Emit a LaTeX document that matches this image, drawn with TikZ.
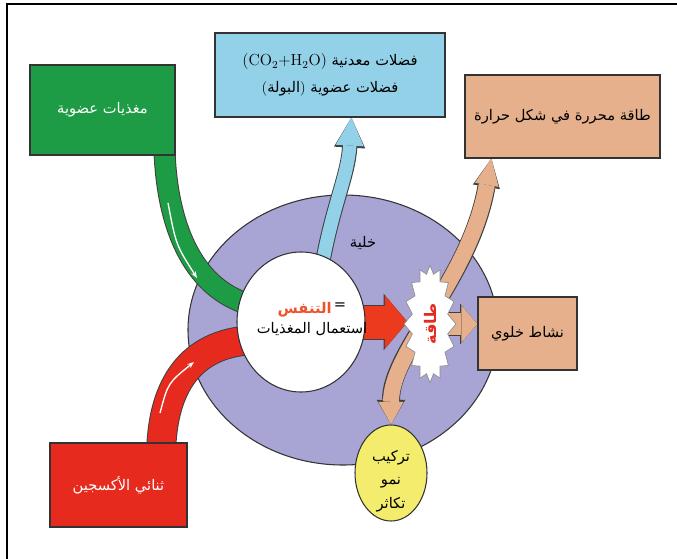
\documentclass[tikz,border=0pt]{standalone}
\usepackage{fontspec}
\newfontfamily\arabicfont[Script=Arabic]{DejaVu Sans}
\TeXXeTstate=1
\usetikzlibrary{arrows.meta, calc, shapes.geometric, shapes.symbols}

\definecolor{cellcol}{HTML}{A8A5D5}
\definecolor{nutgreen}{HTML}{1E9B45}
\definecolor{oxred}{HTML}{E62A1E}
\definecolor{arrowred}{HTML}{EB3A1E}
\definecolor{resporange}{HTML}{F0502A}
\definecolor{wasteblue}{HTML}{93D1E8}
\definecolor{heatpeach}{HTML}{E6B08C}
\definecolor{growyellow}{HTML}{F3EC6C}

\pgfdeclarelayer{cell}
\pgfdeclarelayer{band}
\pgfsetlayers{cell,band,main}

\begin{document}
\begin{tikzpicture}[x=0.75pt, y=-0.75pt,
    font=\arabicfont\fontsize{11}{15}\selectfont,
    box/.style={draw=black!80, line width=0.9pt, align=center, inner sep=2pt},
    outl/.style={draw=black!75, line width=#1}]
    \useasboundingbox (0,0) rectangle (677,559);

    % frame
    \draw[line width=1.5pt] (7,559) -- (7,4) -- (677,4);

    % boxes
    \node[box, fill=nutgreen, text=white, minimum width=108.75pt, minimum height=67.5pt] (nut) at (102.5,110) {\beginR مغذيات عضوية\endR};
    \node[box, fill=wasteblue, minimum width=172.5pt, minimum height=63pt] (waste) at (330,75)
        {\textrm{\fontsize{12}{15}\selectfont(CO\textsubscript{2}+H\textsubscript{2}O)} \beginR فضلات معدنية\endR\\[5pt]
         \textrm{(}\beginR البولة\endR\textrm{)} \beginR فضلات عضوية\endR};
    \node[box, fill=heatpeach, minimum width=146.25pt, minimum height=62.25pt] (heat) at (562.5,116.5) {\beginR طاقة محررة في شكل حرارة\endR};
    \node[box, fill=heatpeach, minimum width=74.25pt, minimum height=54.75pt] (act) at (527.5,333.5) {\beginR نشاط خلوي\endR};
    \node[box, fill=oxred, text=white, minimum width=102.75pt, minimum height=63pt] (oxy) at (118.5,485) {\beginR ثنائي الأكسجين\endR};

    % cell
    \node[ellipse, fill=white, draw=black!80, line width=0.8pt, minimum width=96pt, minimum height=105pt] (wcirc) at (301,322) {};
    \node[align=center] (resptxt) at (312,319)
        {{\color{resporange}\bfseries\beginR التنفس\endR}\,\raisebox{3pt}{=}\\ \beginR استعمال المغذيات\endR};
    \node (celllbl) at (363,243) {\beginR خلية\endR};

    \node[starburst, fill=white, draw=black!45, line width=0.5pt, minimum width=39pt, minimum height=88pt,
        starburst points=16, starburst point height=6pt, random starburst=0, inner sep=0pt] (star) at (430,324) {};
    \node[rotate=90, text=oxred, font=\arabicfont\bfseries\fontsize{12}{14}\selectfont] (startxt) at (star.center) {\beginR طاقة\endR};

    \node[ellipse, fill=growyellow, draw=black!80, line width=0.8pt, minimum width=54pt, minimum height=72pt, inner sep=0pt] (yell) at (391,473) {};
    \node[align=center] (growtxt) at (391,481) {\beginR تركيب\endR\\[2.5pt] \beginR نمو\endR\\[2.5pt] \beginR تكاثر\endR};

    \begin{pgfonlayer}{cell}
        \fill[cellcol, draw=black!80, line width=0.8pt] (343,330) ellipse [x radius=116.25pt, y radius=101.25pt];
    \end{pgfonlayer}

    \begin{pgfonlayer}{band}
        % nutrients and oxygen in
        \draw[oxred, line width=21pt, preaction={outl=22.5pt}]
            ($(oxy.north west)+(112,2)$) .. controls (165,380) and (195,342) .. (255,340);
        \draw[nutgreen, line width=15pt, preaction={outl=16.5pt}]
            ($(nut.south east)+(-11,-2)$) .. controls (168,230) and (195,292) .. (255,306);
        \coordinate (nutA) at (168,203);
        \coordinate (nutB) at (197,278);
        \draw[white, line width=1pt, -{Stealth[length=5pt]}] (nutA) .. controls (176,245) .. (nutB);
        \coordinate (oxA) at (160,413);
        \coordinate (oxB) at (194,362);
        \draw[white, line width=1pt, -{Stealth[length=5pt]}] (oxA) .. controls (168,383) .. (oxB);

        % waste out
        \draw[wasteblue, line width=10pt, -{Triangle[length=21pt,width=21pt,line width=0pt]},
            preaction={draw=black!75, line width=11.5pt, -{Triangle[length=22.5pt,width=23.5pt,line width=0pt]}}]
            ($(wcirc.north)+(21,14)$) .. controls (333,205) and (348,175) .. ($(waste.south west)+(137,0)$);

        % respiration to energy
        \draw[arrowred, line width=24.75pt, -{Triangle[length=17pt,width=40pt,line width=0pt]},
            preaction={draw=black!75, line width=26.25pt, -{Triangle[length=18pt,width=42.5pt,line width=0pt]}}]
            (wcirc.center) -- ($(wcirc.center -| star.west)+(4,0)$);

        % energy uses
        \draw[heatpeach, line width=12pt,
            {Triangle[length=17pt,width=19pt,line width=0pt]}-{Triangle[length=20pt,width=18pt,line width=0pt]},
            preaction={draw=black!75, line width=13.5pt,
                {Triangle[length=18.5pt,width=21.5pt,line width=0pt]}-{Triangle[length=21.5pt,width=20.5pt,line width=0pt]}}]
            (yell.north) .. controls (391,350) and (470,280) .. ($(heat.south west)+(27,0)$);
        \draw[heatpeach, line width=17pt, -{Triangle[length=12pt,width=28pt,line width=0pt]},
            preaction={draw=black!75, line width=18.5pt, -{Triangle[length=13pt,width=30.5pt,line width=0pt]}}]
            (star.center) -- (star.center -| act.west);
    \end{pgfonlayer}
\end{tikzpicture}
\end{document}
